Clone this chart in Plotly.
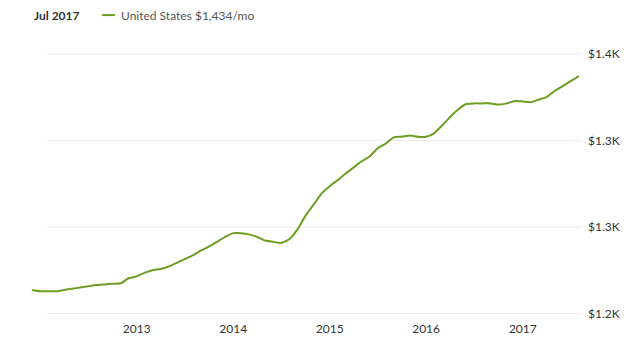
import pandas as pd
import plotly.graph_objects as go

# Monthly rent values (USD/month), Dec 2011 .. Aug 2017
months = pd.date_range("2011-12-01", "2017-08-01", freq="MS")
rent = [
    1219, 1218, 1218, 1218, 1219, 1220, 1221, 1222, 1223, 1223.5,
    1224, 1224.4, 1228.5, 1230, 1233, 1235, 1236, 1238, 1241, 1244,
    1247, 1251, 1254, 1258, 1262, 1265, 1265, 1264, 1262, 1259,
    1258, 1257, 1260, 1268, 1279, 1288, 1297, 1303, 1308, 1313,
    1318, 1323, 1327, 1333.5, 1337.5, 1342.5, 1343, 1344, 1343, 1343,
    1346, 1352, 1359, 1365, 1369.5, 1370, 1370, 1370, 1369, 1370,
    1372, 1371.5, 1371, 1373, 1375, 1380, 1384, 1388, 1392,
]

y_ticks = [1200, 1270, 1340, 1410]
y_labels = ["$1.2K", "$1.3K", "$1.3K", "$1.4K"]
x_ticks = ["2013-01-01", "2014-01-01", "2015-01-01", "2016-01-01", "2017-01-01"]
x_labels = ["2013", "2014", "2015", "2016", "2017"]

legend_date = "Jul 2017"
legend_series = "United States $1,434/mo"

LINE = "#6c9e22"
FONT = "Lato, 'Open Sans', sans-serif"

fig = go.Figure()
fig.add_trace(go.Scatter(
    x=months, y=rent, mode="lines",
    line=dict(color=LINE, width=2, shape="spline", smoothing=0.5),
    hoverinfo="skip", showlegend=False,
))

for v in y_ticks:
    fig.add_shape(type="line", xref="paper", yref="y", x0=0.048, x1=1.0,
                  y0=v, y1=v, line=dict(color="#ececec", width=1), layer="below")

# legend header
fig.add_annotation(xref="paper", yref="paper", x=0.021, y=1.089,
                   text="<b>" + legend_date + "</b>", showarrow=False,
                   xanchor="left", yanchor="middle",
                   font=dict(family=FONT, size=12, color="#333333"))
fig.add_shape(type="line", xref="paper", yref="paper", x0=0.146, x1=0.169,
              y0=1.089, y1=1.089, line=dict(color=LINE, width=2))
fig.add_annotation(xref="paper", yref="paper", x=0.176, y=1.089,
                   text=legend_series, showarrow=False,
                   xanchor="left", yanchor="middle",
                   font=dict(family=FONT, size=12, color="#555555"))

fig.update_layout(
    width=640, height=352,
    margin=dict(l=20, r=58, t=40, b=32),
    paper_bgcolor="white", plot_bgcolor="white",
    font=dict(family=FONT, size=12, color="#333333"),
    xaxis=dict(range=["2011-10-17", "2017-08-13"], tickvals=x_ticks, ticktext=x_labels,
               showgrid=False, zeroline=False, showline=False, ticks="",
               tickfont=dict(size=12, color="#333333")),
    yaxis=dict(range=[1194.7, 1421.3], side="right", tickvals=y_ticks, ticktext=y_labels,
               showgrid=False, zeroline=False, showline=False, ticks="",
               ticklabelstandoff=5,
               tickfont=dict(size=12, color="#333333")),
)

fig.write_html("out.html")
